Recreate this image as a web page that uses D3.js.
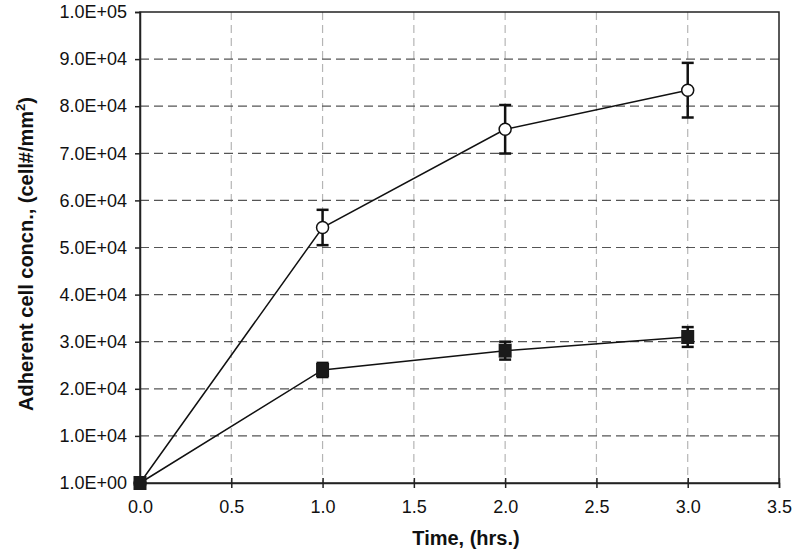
<!DOCTYPE html>
<html>
<head>
<meta charset="utf-8">
<script src="https://cdn.jsdelivr.net/npm/d3@7"></script>
<style>
  body { margin: 0; background: #fff; }
  svg { display: block; font-family: "Liberation Sans", Arial, Helvetica, sans-serif; }
</style>
</head>
<body>
<div id="chart"></div>
<script>
// time points (hrs.)
const times = [0, 1, 2, 3];

// open circles
const circleMean = [0, 54250, 75100, 83400];
const circleErr = [0, 3750, 5150, 5800];

// filled squares
const squareMean = [0, 24000, 28100, 31000];
const squareErr = [0, 1500, 1900, 2100];

const xTicks = [0, 0.5, 1, 1.5, 2, 2.5, 3, 3.5];
const yTicks = [0, 10000, 20000, 30000, 40000, 50000, 60000, 70000, 80000, 90000, 100000];
const yTickLabels = ["1.0E+00", "1.0E+04", "2.0E+04", "3.0E+04", "4.0E+04", "5.0E+04",
  "6.0E+04", "7.0E+04", "8.0E+04", "9.0E+04", "1.0E+05"];

const W = 800, H = 555;
const margin = { top: 12, right: 21, bottom: 72, left: 140 };
const width = W - margin.left - margin.right;
const height = H - margin.top - margin.bottom;

const svg = d3.select("#chart").append("svg")
  .attr("width", W)
  .attr("height", H);

const g = svg.append("g")
  .attr("transform", `translate(${margin.left},${margin.top})`);

const x = d3.scaleLinear().domain([0, 3.5]).range([0, width]);
const y = d3.scaleLinear().domain([0, 100000]).range([height, 0]);

// vertical grid (light)
g.append("g")
  .selectAll("line")
  .data(xTicks.slice(1, -1))
  .join("line")
  .attr("x1", d => x(d)).attr("x2", d => x(d))
  .attr("y1", 0).attr("y2", height)
  .attr("stroke", "#b5b5b5")
  .attr("stroke-width", 1.2)
  .attr("stroke-dasharray", "8,5");

// horizontal grid (dark)
g.append("g")
  .selectAll("line")
  .data(yTicks.slice(1, -1))
  .join("line")
  .attr("x1", 0).attr("x2", width)
  .attr("y1", d => y(d)).attr("y2", d => y(d))
  .attr("stroke", "#555")
  .attr("stroke-width", 1.2)
  .attr("stroke-dasharray", "9,5");

// frame
g.append("rect")
  .attr("width", width).attr("height", height)
  .attr("fill", "none")
  .attr("stroke", "#222")
  .attr("stroke-width", 1.5);

// y axis
const yAxis = d3.axisLeft(y)
  .tickValues(yTicks)
  .tickSize(5)
  .tickPadding(8)
  .tickFormat((d, i) => yTickLabels[i]);
const yg = g.append("g").call(yAxis);
yg.select(".domain").attr("stroke", "#222").attr("stroke-width", 1.5);
yg.selectAll(".tick line").attr("stroke", "#222").attr("stroke-width", 1.5);
yg.selectAll(".tick text")
  .attr("font-size", 18)
  .attr("fill", "#111")
  .attr("font-family", "Liberation Sans, Arial, sans-serif");

// x axis
const xAxis = d3.axisBottom(x)
  .tickValues(xTicks)
  .tickSize(5)
  .tickPadding(12)
  .tickFormat(d3.format(".1f"));
const xg = g.append("g")
  .attr("transform", `translate(0,${height})`)
  .call(xAxis);
xg.select(".domain").attr("stroke", "#222").attr("stroke-width", 1.5);
xg.selectAll(".tick line")
  .attr("y1", -5)
  .attr("stroke", "#222").attr("stroke-width", 1.5);
xg.selectAll(".tick text")
  .attr("font-size", 18)
  .attr("fill", "#111")
  .attr("font-family", "Liberation Sans, Arial, sans-serif");

// series lines
const line = d3.line().x(d => x(d[0])).y(d => y(d[1]));

const circleData = times.map((t, i) => [t, circleMean[i], circleErr[i]]);
const squareData = times.map((t, i) => [t, squareMean[i], squareErr[i]]);

[circleData, squareData].forEach(data => {
  g.append("path")
    .datum(data)
    .attr("d", line)
    .attr("fill", "none")
    .attr("stroke", "#111")
    .attr("stroke-width", 1.5);
});

// error bars
function errorBars(data) {
  const eb = g.append("g")
    .selectAll("g")
    .data(data.filter(d => d[2] > 0))
    .join("g")
    .attr("stroke", "#111")
    .attr("stroke-width", 2.5);
  eb.append("line")
    .attr("x1", d => x(d[0])).attr("x2", d => x(d[0]))
    .attr("y1", d => y(d[1] + d[2])).attr("y2", d => y(d[1] - d[2]));
  eb.append("line")
    .attr("x1", d => x(d[0]) - 6).attr("x2", d => x(d[0]) + 6)
    .attr("y1", d => y(d[1] + d[2])).attr("y2", d => y(d[1] + d[2]));
  eb.append("line")
    .attr("x1", d => x(d[0]) - 6).attr("x2", d => x(d[0]) + 6)
    .attr("y1", d => y(d[1] - d[2])).attr("y2", d => y(d[1] - d[2]));
}
errorBars(circleData);
errorBars(squareData);

// markers
g.append("g")
  .selectAll("circle")
  .data(circleData)
  .join("circle")
  .attr("cx", d => x(d[0]))
  .attr("cy", d => y(d[1]))
  .attr("r", 6)
  .attr("fill", "#fff")
  .attr("stroke", "#111")
  .attr("stroke-width", 1.5);

g.append("g")
  .selectAll("rect")
  .data(squareData)
  .join("rect")
  .attr("x", d => x(d[0]) - 6.5)
  .attr("y", d => y(d[1]) - 7)
  .attr("width", 13)
  .attr("height", 14)
  .attr("fill", "#1a1a1a");

// axis titles
svg.append("text")
  .attr("x", 466)
  .attr("y", 545)
  .attr("text-anchor", "middle")
  .attr("font-size", 20)
  .attr("font-weight", "bold")
  .attr("fill", "#111")
  .text("Time, (hrs.)");

const yTitle = svg.append("text")
  .attr("transform", `translate(33,254) rotate(-90)`)
  .attr("text-anchor", "middle")
  .attr("font-size", 20)
  .attr("font-weight", "bold")
  .attr("fill", "#111");
yTitle.append("tspan").text("Adherent cell concn., (cell#/mm");
yTitle.append("tspan").attr("font-size", 13).attr("dy", -8).text("2");
yTitle.append("tspan").attr("dy", 8).text(")");
</script>
</body>
</html>
